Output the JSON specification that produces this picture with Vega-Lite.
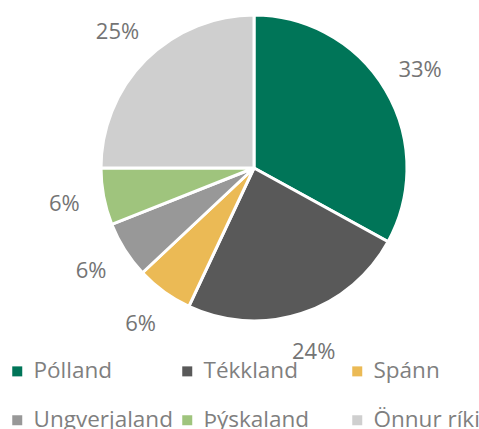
{
  "$schema": "https://vega.github.io/schema/vega-lite/v6.json",
  "width": 450,
  "height": 336,
  "padding": {"left": 29, "top": 0, "right": 0, "bottom": 93},
  "autosize": {"type": "none"},
  "background": "white",
  "config": {"view": {"stroke": null}, "font": "Open Sans"},
  "data": {
    "values": [
      {"land": "Pólland", "share": 0.33, "o": 1},
      {"land": "Tékkland", "share": 0.24, "o": 2},
      {"land": "Spánn", "share": 0.06, "o": 3},
      {"land": "Ungverjaland", "share": 0.06, "o": 4},
      {"land": "Þýskaland", "share": 0.06, "o": 5},
      {"land": "Önnur ríki", "share": 0.25, "o": 6}
    ]
  },
  "encoding": {
    "theta": {"field": "share", "type": "quantitative", "stack": true},
    "order": {"field": "o", "type": "quantitative"}
  },
  "layer": [
    {
      "mark": {"type": "arc", "outerRadius": 153, "stroke": "white", "strokeWidth": 3},
      "encoding": {
        "color": {
          "field": "land",
          "type": "nominal",
          "sort": ["Pólland", "Tékkland", "Spánn", "Ungverjaland", "Þýskaland", "Önnur ríki"],
          "scale": {
            "domain": ["Pólland", "Tékkland", "Spánn", "Ungverjaland", "Þýskaland", "Önnur ríki"],
            "range": ["#007558", "#595959", "#EBBA55", "#989898", "#9FC47D", "#CFCFCF"]
          },
          "legend": {
            "title": null,
            "orient": "none",
            "legendX": -23,
            "legendY": 360,
            "padding": 0,
            "direction": "horizontal",
            "columns": 3,
            "gridAlign": "all",
            "columnPadding": 3,
            "rowPadding": 26,
            "symbolType": "square",
            "symbolSize": 100,
            "symbolStrokeWidth": 0,
            "labelOffset": 5,
            "labelFont": "Open Sans",
            "labelFontSize": 22.5,
            "labelColor": "#7f7f7f",
            "labelLimit": 300
          }
        }
      }
    },
    {
      "mark": {"type": "text", "radius": 193, "font": "Open Sans", "fontSize": 22, "color": "#747474", "align": "center", "baseline": "middle"},
      "encoding": {
        "text": {"field": "share", "type": "quantitative", "format": ".0%"}
      }
    }
  ]
}
